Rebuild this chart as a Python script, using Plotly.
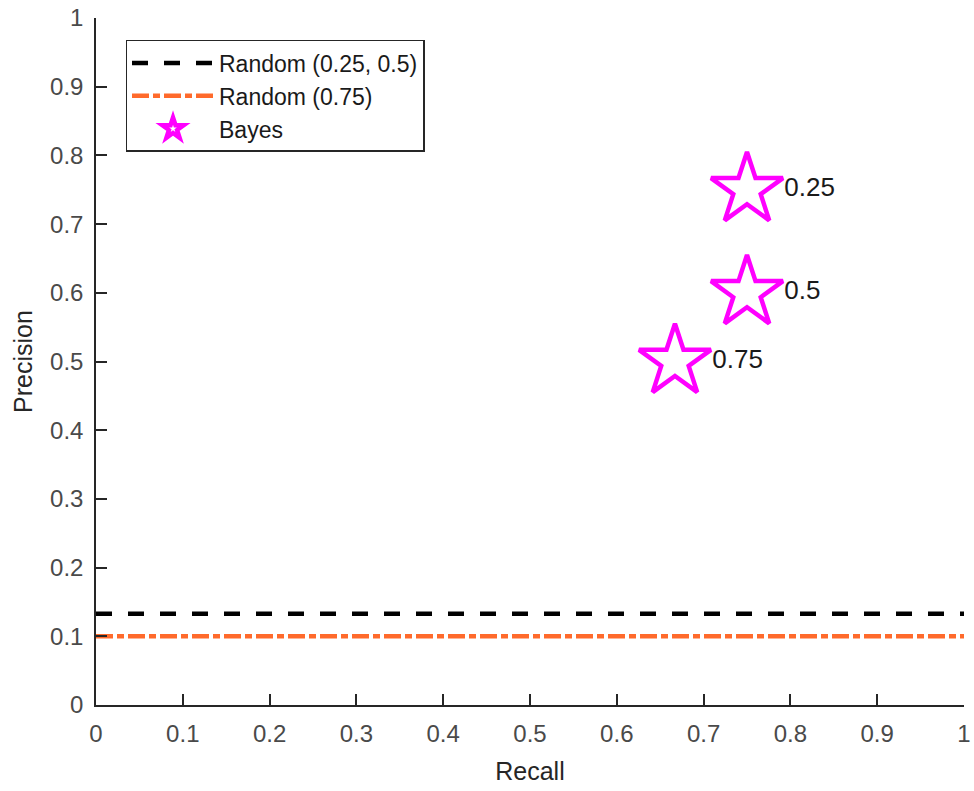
import plotly.graph_objects as go

# Data
random_025_05 = 0.133   # precision of random classifier (thresholds 0.25, 0.5)
random_075 = 0.1        # precision of random classifier (threshold 0.75)
bayes_recall = [0.75, 0.75, 0.667]
bayes_precision = [0.75, 0.6, 0.5]
bayes_labels = ["0.25", "0.5", "0.75"]
x_span = [0, 1]
tick_vals = [0, 0.1, 0.2, 0.3, 0.4, 0.5, 0.6, 0.7, 0.8, 0.9, 1]
tick_text = ["0", "0.1", "0.2", "0.3", "0.4", "0.5", "0.6", "0.7", "0.8", "0.9", "1"]

FONT = "Liberation Sans, Arial, sans-serif"
AX = "#262626"

fig = go.Figure()
fig.add_trace(go.Scatter(
    x=x_span, y=[random_025_05] * 2, mode="lines", name="Random (0.25, 0.5)",
    line=dict(color="black", width=4.5, dash="16px,16px"), legendgroup="a"))
fig.add_trace(go.Scatter(
    x=x_span, y=[random_075] * 2, mode="lines", name="Random (0.75)",
    line=dict(color="#FF6A2B", width=4.5, dash="17px,4px,7px,4px"), legendgroup="b"))
fig.add_trace(go.Scatter(
    x=bayes_recall, y=bayes_precision, mode="markers", name="Bayes",
    marker=dict(symbol="star-open", size=54, color="#FF00FF",
                line=dict(color="#FF00FF", width=4.5)), legendgroup="c"))
fig.add_trace(go.Scatter(
    x=[r + 0.043 for r in bayes_recall], y=bayes_precision, mode="text",
    text=bayes_labels, textposition="middle right", showlegend=False,
    textfont=dict(family=FONT, size=26, color="#1a1a1a"), cliponaxis=False))

axis_common = dict(
    range=[0, 1], tickvals=tick_vals, ticktext=tick_text, ticks="inside",
    ticklen=11, tickwidth=1.5, tickcolor=AX, showline=True, linecolor=AX,
    linewidth=1.5, showgrid=False, zeroline=False, mirror=False, automargin=False,
    tickfont=dict(family=FONT, size=24, color="#4a4a4a"),
    title_font=dict(family=FONT, size=25, color="#262626"))

fig.update_layout(
    width=974, height=791, plot_bgcolor="white", paper_bgcolor="white",
    margin=dict(l=96, r=10, t=18, b=86, autoexpand=False),
    xaxis=dict(**axis_common, title_text="Recall", ticklabelstandoff=6, title_standoff=17),
    yaxis=dict(**axis_common, title_text="Precision", ticklabelstandoff=6, title_standoff=10),
    legend=dict(x=0.034, y=0.968, xanchor="left", yanchor="top",
                bgcolor="white", bordercolor=AX, borderwidth=1.5,
                font=dict(family=FONT, size=23, color="#1a1a1a"),
                traceorder="grouped", tracegroupgap=0, itemsizing="trace",
                itemwidth=82),
    showlegend=True,
)

fig.write_html("out.html")
